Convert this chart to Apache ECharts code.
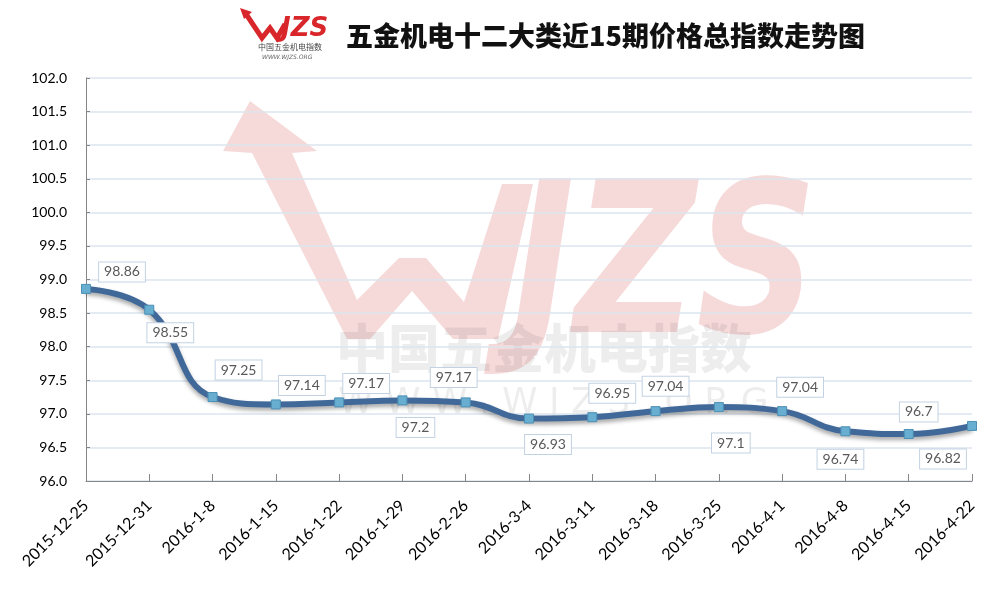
<!DOCTYPE html>
<html>
<head>
<meta charset="utf-8">
<script src="https://cdn.jsdelivr.net/npm/echarts@6/dist/echarts.min.js"></script>
<style>html,body{margin:0;padding:0;background:#fff}#c{width:992px;height:595px}</style>
</head>
<body>
<div id="c"></div>
<script>
var categories = ['2015-12-25','2015-12-31','2016-1-8','2016-1-15','2016-1-22','2016-1-29','2016-2-26','2016-3-4','2016-3-11','2016-3-18','2016-3-25','2016-4-1','2016-4-8','2016-4-15','2016-4-22'];
var values = [98.86, 98.55, 97.25, 97.14, 97.17, 97.2, 97.17, 96.93, 96.95, 97.04, 97.1, 97.04, 96.74, 96.7, 96.82];
var yTicks = ['96.0','96.5','97.0','97.5','98.0','98.5','99.0','99.5','100.0','100.5','101.0','101.5','102.0'];
var titleText = '五金机电十二大类近15期价格总指数走势图';

// label placement (style only)
var labelOffsets = [[36,-17],[21,23],[26,-27],[26,-19],[27,-19],[13,27],[-12,-25],[19,26],[20,-24],[10,-25],[12,36],[18,-24],[-5,28],[10,-22],[-29,33]];

var chart = echarts.init(document.getElementById('c'), null, {renderer:'canvas'});
var seriesData = values.map(function(v, i){
  return {value: v, label: {offset: labelOffsets[i]}};
});

var wmPink = '#f6dada';
var option = {
  backgroundColor: '#ffffff',
  animation: false,
  title: {
    text: titleText,
    left: 341, top: 17,
    textStyle: {fontFamily: 'Noto Sans CJK SC', fontWeight: 900, fontSize: 27, color: '#111'}
  },
  graphic: [
    // watermark W with arrow
    {type:'polygon', z:-10, silent:true, shape:{points:[
      [250,101],[317,151],[292,153],[357,300],[399,258],[426,258],[464,302],[502,184],[533,184],
      [498,339],[453,339],[412,291],[370,339],[347,339],[252,153],[223,151]
    ]}, style:{fill:wmPink}},
    {type:'text', z:-10, silent:true, x: 512, y: 172, scaleY: 1.25,
      style:{text:'JZS', font:'italic 900 168px "DejaVu Sans"', fill:wmPink, verticalAlign:'top', align:'left'}},
    {type:'text', z:-10, silent:true, left: 336, top: 322,
      style:{text:'中国五金机电指数', font:'900 52px "Noto Sans CJK SC"', fill:'rgba(0,0,0,0.07)'}},
    {type:'text', z:-10, silent:true, left: 338, top: 386,
      style:{text:'W W W . W J Z S . O R G', font:'36px "DejaVu Sans"', fill:'rgba(0,0,0,0.07)'}},
    // top-left logo
    {type:'polyline', silent:true, shape:{points:[[246,14],[262,38],[270,28],[277,38],[285,24]]},
      style:{stroke:'#d8262b', lineWidth:5, fill:null}},
    {type:'polygon', silent:true, shape:{points:[[240,8],[252,12],[244,19]]}, style:{fill:'#d8262b'}},
    {type:'text', silent:true, left: 281, top: 16,
      style:{text:'JZS', font:'italic 900 26px "DejaVu Sans"', fill:'#d8262b'}},
    {type:'text', silent:true, left: 258, top: 43,
      style:{text:'中国五金机电指数', font:'8px "Noto Sans CJK SC"', fill:'#444'}},
    {type:'text', silent:true, left: 262, top: 54,
      style:{text:'WWW.WJZS.ORG', font:'italic 6px "DejaVu Sans"', fill:'#666'}}
  ],
  grid: {left: 86, right: 20, top: 78, bottom: 114, containLabel: false},
  xAxis: {
    type: 'category',
    data: categories,
    boundaryGap: false,
    axisLine: {lineStyle: {color: '#868686', width: 1}},
    axisTick: {show: true, inside: true, length: 7, lineStyle: {color: '#868686'}},
    axisLabel: {rotate: 45, margin: 22, fontSize: 16, color: '#000', fontFamily: 'Lato', interval: 0}
  },
  yAxis: {
    type: 'value',
    min: 96, max: 102, interval: 0.5,
    axisLine: {show: true, lineStyle: {color: '#868686', width: 1}},
    axisTick: {show: true, inside: true, length: 4, lineStyle: {color: '#868686'}},
    splitLine: {lineStyle: {color: '#dbe4ee', width: 1.5}},
    axisLabel: {
      fontSize: 14, color: '#000', fontFamily: 'Lato', margin: 19,
      formatter: function(v){ var i = Math.round((v - 96) / 0.5); return yTicks[i]; }
    }
  },
  series: [{
    type: 'line',
    data: seriesData,
    smooth: 0.45,
    symbol: 'rect',
    symbolSize: 9,
    lineStyle: {color: '#40699a', width: 6, shadowColor: 'rgba(0,0,0,0.35)', shadowBlur: 4, shadowOffsetY: 3},
    itemStyle: {color: '#67aed1', borderColor: '#4c8fb5', borderWidth: 1},
    label: {
      show: true,
      position: 'inside',
      align: 'center', verticalAlign: 'middle',
      fontSize: 14, color: '#595959', fontFamily: 'Lato',
      backgroundColor: '#ffffff',
      borderColor: '#c3d2e3', borderWidth: 1,
      padding: [3, 5, 2, 5],
      formatter: function(p){ return String(p.value); }
    },
    z: 5
  }]
};
chart.setOption(option);
</script>
</body>
</html>
